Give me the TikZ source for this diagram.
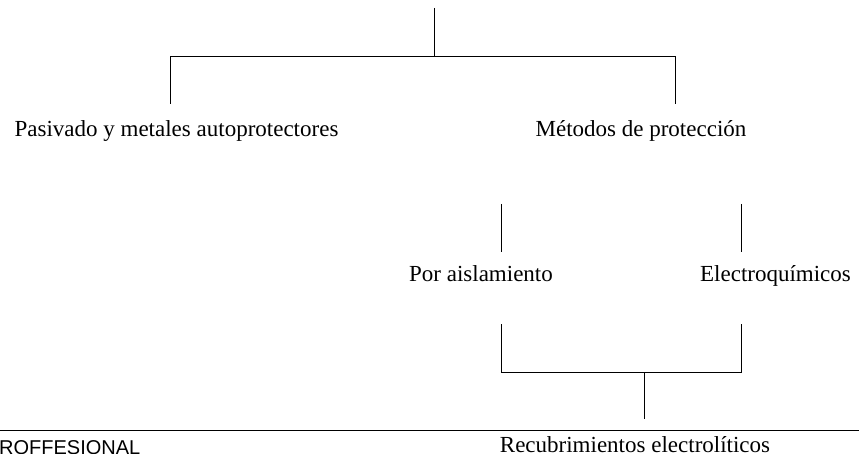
\documentclass[tikz,border=0pt]{standalone}
\usepackage{fontspec}
\setmainfont{Liberation Serif}
\newfontfamily\arialfont{Liberation Sans}
\tikzset{
  lbl/.style={font=\fontsize{23}{27}\selectfont, inner sep=0pt, anchor=base},
  foot/.style={font=\arialfont\fontsize{20}{24}\selectfont, inner sep=0pt, anchor=base west},
  link/.style={line width=0.9pt}
}
\begin{document}
\begin{tikzpicture}[x=1pt,y=-1pt]
 \useasboundingbox (0,0) rectangle (859,454);
 \node[lbl] (pasivado) at (176.5,137) {Pasivado y metales autoprotectores};
 \node[lbl] (metodos) at (641,137) {Métodos de protección};
 \node[lbl] (aisla) at (481,281.5) {Por aislamiento};
 \node[lbl] (electro) at (775.5,281.5) {Electroquímicos};
 \node[lbl] (recub) at (635,452) {Recubrimientos electrolíticos};
 \node[foot] (prof) at (-1,454) {ROFFESIONAL};
 \coordinate (root) at (434,8);
 \coordinate (fork) at (434,56);
 \coordinate (pasEnd) at (170,104);
 \coordinate (metEnd) at (675,104);
 \coordinate (aisTop) at (501,204);
 \coordinate (aisBot) at (501,252);
 \coordinate (eleTop) at (741,204);
 \coordinate (eleBot) at (741,252);
 \coordinate (aisLow) at (501,324);
 \coordinate (eleLow) at (741,324);
 \coordinate (join) at (644,372);
 \coordinate (recEnd) at (644,419);
 \draw[link] (root) -- (fork);
 \draw[link] (pasEnd) -- (pasEnd|-fork) -- (metEnd|-fork) -- (metEnd);
 \draw[link] (aisTop) -- (aisBot);
 \draw[link] (eleTop) -- (eleBot);
 \draw[link] (aisLow) -- (aisLow|-join) -- (eleLow|-join) -- (eleLow);
 \draw[link] (join) -- (recEnd);
 \draw[link] (0,430) -- (859,430);
\end{tikzpicture}
\end{document}
